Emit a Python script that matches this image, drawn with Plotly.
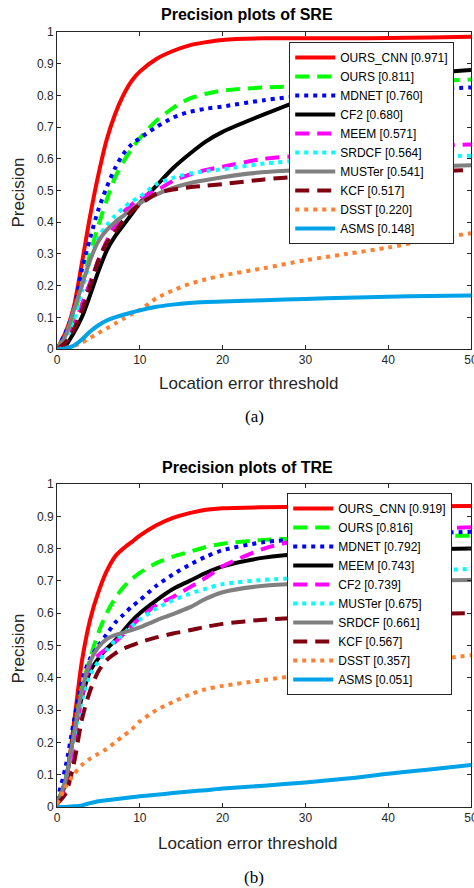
import plotly.graph_objects as go

W, H = 474, 888
ML, MR, MT, MB = 56.5, 3, 32, 81

# threshold values (x)
X = [0, 1, 2, 3, 4, 5, 6, 7, 8, 9, 10, 12, 14, 16, 18, 20, 25, 30, 35, 40, 45, 50]
x_ticks = [0, 10, 20, 30, 40, 50]
y_ticks = [0, 0.1, 0.2, 0.3, 0.4, 0.5, 0.6, 0.7, 0.8, 0.9, 1]

# ---------------- SRE ----------------
sre_names = ["OURS_CNN", "OURS", "MDNET", "CF2", "MEEM", "SRDCF", "MUSTer", "KCF", "DSST", "ASMS"]
sre_scores = ["0.971", "0.811", "0.760", "0.680", "0.571", "0.564", "0.541", "0.517", "0.220", "0.148"]
sre_ours_cnn = [0.0, 0.05, 0.13, 0.27, 0.42, 0.55, 0.66, 0.74, 0.80, 0.845, 0.875, 0.915, 0.94, 0.958, 0.968, 0.975, 0.98, 0.98, 0.98, 0.981, 0.983, 0.985]
sre_ours = [0.0, 0.04, 0.10, 0.20, 0.30, 0.39, 0.47, 0.54, 0.59, 0.63, 0.665, 0.72, 0.76, 0.79, 0.805, 0.815, 0.825, 0.83, 0.835, 0.84, 0.845, 0.85]
sre_mdnet = [0.0, 0.05, 0.12, 0.25, 0.35, 0.44, 0.51, 0.57, 0.615, 0.645, 0.665, 0.70, 0.73, 0.748, 0.758, 0.765, 0.785, 0.80, 0.81, 0.815, 0.82, 0.825]
sre_cf2 = [0.0, 0.01, 0.05, 0.10, 0.17, 0.245, 0.31, 0.355, 0.39, 0.425, 0.46, 0.515, 0.57, 0.615, 0.655, 0.685, 0.74, 0.79, 0.83, 0.855, 0.87, 0.88]
sre_meem = [0.0, 0.02, 0.07, 0.14, 0.21, 0.28, 0.34, 0.39, 0.43, 0.455, 0.475, 0.50, 0.53, 0.55, 0.565, 0.575, 0.60, 0.61, 0.62, 0.63, 0.64, 0.645]
sre_srdcf = [0.0, 0.03, 0.09, 0.18, 0.28, 0.35, 0.39, 0.42, 0.445, 0.465, 0.48, 0.52, 0.54, 0.553, 0.561, 0.567, 0.585, 0.595, 0.60, 0.605, 0.607, 0.61]
sre_muster = [0.0, 0.04, 0.12, 0.20, 0.28, 0.34, 0.375, 0.40, 0.42, 0.44, 0.46, 0.487, 0.508, 0.523, 0.533, 0.542, 0.558, 0.565, 0.57, 0.573, 0.576, 0.58]
sre_kcf = [0.0, 0.02, 0.06, 0.12, 0.20, 0.28, 0.335, 0.37, 0.405, 0.435, 0.455, 0.49, 0.503, 0.51, 0.515, 0.52, 0.535, 0.545, 0.55, 0.555, 0.56, 0.565]
sre_dsst = [0.0, 0.003, 0.01, 0.02, 0.035, 0.05, 0.065, 0.08, 0.095, 0.11, 0.123, 0.16, 0.185, 0.205, 0.22, 0.232, 0.255, 0.28, 0.30, 0.32, 0.345, 0.365]
sre_asms = [0.0, 0.002, 0.01, 0.03, 0.055, 0.075, 0.09, 0.10, 0.108, 0.115, 0.122, 0.133, 0.14, 0.145, 0.148, 0.15, 0.154, 0.158, 0.162, 0.165, 0.167, 0.169]
sre_series = [sre_ours_cnn, sre_ours, sre_mdnet, sre_cf2, sre_meem, sre_srdcf, sre_muster, sre_kcf, sre_dsst, sre_asms]

# ---------------- TRE ----------------
tre_names = ["OURS_CNN", "OURS", "MDNET", "MEEM", "CF2", "MUSTer", "SRDCF", "KCF", "DSST", "ASMS"]
tre_scores = ["0.919", "0.816", "0.792", "0.743", "0.739", "0.675", "0.661", "0.567", "0.357", "0.051"]
tre_ours_cnn = [0.01, 0.07, 0.25, 0.45, 0.58, 0.665, 0.73, 0.775, 0.80, 0.82, 0.84, 0.872, 0.895, 0.91, 0.92, 0.925, 0.928, 0.929, 0.93, 0.93, 0.931, 0.932]
tre_ours = [0.01, 0.08, 0.22, 0.37, 0.46, 0.54, 0.60, 0.645, 0.68, 0.705, 0.725, 0.755, 0.775, 0.79, 0.805, 0.815, 0.827, 0.832, 0.835, 0.837, 0.839, 0.84]
tre_mdnet = [0.02, 0.12, 0.26, 0.39, 0.46, 0.50, 0.535, 0.57, 0.595, 0.62, 0.64, 0.685, 0.72, 0.75, 0.775, 0.795, 0.82, 0.83, 0.838, 0.843, 0.848, 0.852]
tre_meem = [0.01, 0.08, 0.22, 0.34, 0.42, 0.46, 0.49, 0.515, 0.545, 0.575, 0.60, 0.64, 0.675, 0.70, 0.725, 0.745, 0.772, 0.785, 0.79, 0.795, 0.798, 0.80]
tre_cf2 = [0.01, 0.05, 0.18, 0.34, 0.44, 0.47, 0.49, 0.51, 0.535, 0.56, 0.585, 0.625, 0.65, 0.68, 0.71, 0.745, 0.80, 0.83, 0.845, 0.855, 0.862, 0.866]
tre_muster = [0.01, 0.08, 0.21, 0.33, 0.41, 0.45, 0.485, 0.515, 0.535, 0.56, 0.58, 0.615, 0.64, 0.66, 0.676, 0.69, 0.703, 0.71, 0.718, 0.725, 0.732, 0.737]
tre_srdcf = [0.01, 0.08, 0.22, 0.36, 0.45, 0.495, 0.52, 0.532, 0.54, 0.548, 0.556, 0.578, 0.597, 0.618, 0.645, 0.665, 0.685, 0.692, 0.696, 0.699, 0.701, 0.703]
tre_kcf = [0.01, 0.04, 0.13, 0.27, 0.36, 0.42, 0.455, 0.475, 0.49, 0.50, 0.51, 0.525, 0.537, 0.547, 0.558, 0.567, 0.58, 0.587, 0.592, 0.595, 0.598, 0.60]
tre_dsst = [0.01, 0.06, 0.10, 0.13, 0.15, 0.165, 0.18, 0.20, 0.22, 0.24, 0.265, 0.30, 0.325, 0.348, 0.365, 0.375, 0.393, 0.41, 0.425, 0.44, 0.455, 0.47]
tre_asms = [0.0, 0.0, 0.002, 0.005, 0.012, 0.018, 0.021, 0.024, 0.027, 0.03, 0.033, 0.038, 0.043, 0.048, 0.052, 0.057, 0.066, 0.076, 0.088, 0.103, 0.116, 0.13]
tre_series = [tre_ours_cnn, tre_ours, tre_mdnet, tre_meem, tre_cf2, tre_muster, tre_srdcf, tre_kcf, tre_dsst, tre_asms]

# styles by rank
colors = ["#ff0000", "#00ff00", "#0000ff", "#000000", "#ff00ff", "#00ffff", "#808080", "#7f0010", "#ff8030", "#00a2e8"]
DASH = "14px,8px"
DOT = "4px,5px"
dashes = ["solid", DASH, DOT, "solid", DASH, DOT, "solid", DASH, DOT, "solid"]

PH = H - MT - MB
PW = W - ML - MR


def px2x(px):
    return (px - ML) / PW


def py2y(py):
    return (H - MB - py) / PH


top_dom = [py2y(349), 1.0]
bot_dom = [0.0, py2y(484)]

fig = go.Figure()
for i in range(10):
    fig.add_trace(go.Scatter(
        x=X, y=sre_series[i], mode="lines",
        name=f"{sre_names[i]} [{sre_scores[i]}]",
        line=dict(color=colors[i], width=4, dash=dashes[i], shape="spline", smoothing=0.8),
        xaxis="x", yaxis="y", legend="legend"))
for i in range(10):
    fig.add_trace(go.Scatter(
        x=X, y=tre_series[i], mode="lines",
        name=f"{tre_names[i]} [{tre_scores[i]}]",
        line=dict(color=colors[i], width=4, dash=dashes[i], shape="spline", smoothing=0.8),
        xaxis="x2", yaxis="y2", legend="legend2"))

AX = "#262626"
FONT = "Liberation Sans, Arial, sans-serif"
xcommon = dict(range=[0, 50], tickvals=x_ticks, ticks="inside", ticklen=4, tickcolor=AX,
               showline=True, linecolor=AX, linewidth=1, mirror="ticks", showgrid=False,
               zeroline=False, ticklabeloverflow="allow", automargin=False,
               tickfont=dict(family=FONT, size=12, color=AX))
ycommon = dict(range=[0, 1], tickvals=y_ticks, ticks="inside", ticklen=4, tickcolor=AX,
               showline=True, linecolor=AX, linewidth=1, mirror="ticks", showgrid=False,
               zeroline=False, automargin=False,
               tickfont=dict(family=FONT, size=12, color=AX))

legcommon = dict(bgcolor="white", bordercolor=AX, borderwidth=1, xanchor="left", yanchor="top",
                 font=dict(family=FONT, size=12, color="#000000"), itemwidth=40,
                 tracegroupgap=0)

fig.update_layout(
    width=W, height=H, autosize=False, margin=dict(l=ML, r=MR, t=MT, b=MB, autoexpand=False),
    paper_bgcolor="white", plot_bgcolor="white",
    xaxis=dict(xcommon, anchor="y", domain=[0, 1]),
    yaxis=dict(ycommon, anchor="x", domain=top_dom),
    xaxis2=dict(xcommon, anchor="y2", domain=[0, 1]),
    yaxis2=dict(ycommon, anchor="x2", domain=bot_dom),
    legend=dict(legcommon, x=px2x(289), y=py2y(42)),
    legend2=dict(legcommon, x=px2x(287), y=py2y(493)),
    showlegend=True,
)

ann = []


def add_text(text, cx, cy, size, bold=False, family=FONT, angle=0, color="#262626"):
    ann.append(dict(text=(f"<b>{text}</b>" if bold else text), x=px2x(cx), y=py2y(cy),
                    xref="paper", yref="paper", showarrow=False, xanchor="center",
                    yanchor="middle", textangle=angle,
                    font=dict(family=family, size=size, color=color)))


add_text("Precision plots of SRE", 247, 15, 16, bold=True, color="#000000")
add_text("Precision plots of TRE", 247, 467, 16, bold=True, color="#000000")
add_text("Location error threshold", 249, 383, 17)
add_text("Location error threshold", 248, 843, 17)
add_text("Precision", 17, 193, 17, angle=-90)
add_text("Precision", 17, 649, 17, angle=-90)
add_text("(a)", 254, 416, 17, family="Liberation Serif, Times New Roman, serif", color="#000000")
add_text("(b)", 254, 877, 17, family="Liberation Serif, Times New Roman, serif", color="#000000")
fig.update_layout(annotations=ann)

fig.write_html("out.html",
               config={"responsive": False, "displayModeBar": False},
               post_script="document.body.style.margin='0';document.body.style.overflow='hidden';")
